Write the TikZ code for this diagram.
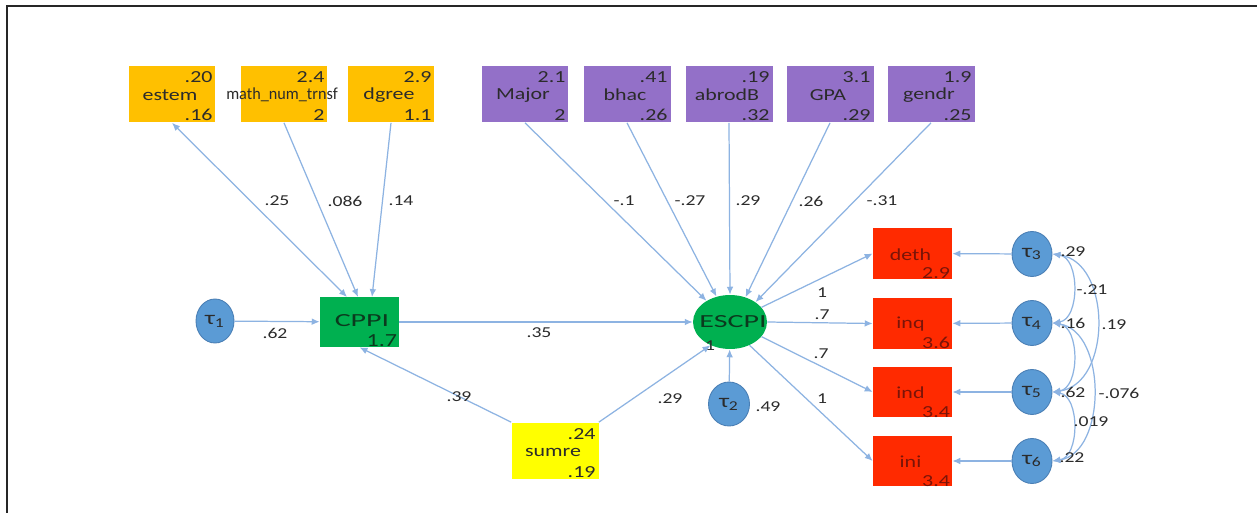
\documentclass[tikz,border=0pt]{standalone}
\usepackage{fontspec}
\setmainfont{Carlito}[FakeStretch=1.3]
\usepackage{graphicx}
\usetikzlibrary{arrows.meta,calc,shapes.geometric}
\definecolor{lnk}{HTML}{8DB3E2}
\definecolor{ellf}{HTML}{5B9BD5}
\definecolor{elld}{HTML}{4A7FB5}
\definecolor{orng}{HTML}{FFC000}
\definecolor{purp}{HTML}{9370C8}
\definecolor{grn}{HTML}{00B050}
\definecolor{redb}{HTML}{FF2A00}
\definecolor{yel}{HTML}{FFFF00}
\definecolor{txt}{HTML}{2B2B2B}
\definecolor{redtxt}{HTML}{7A1408}
\definecolor{grntxt}{HTML}{0B3A1E}
\tikzset{
  varbox/.style={minimum width=1.74cm, minimum height=1.14cm, inner sep=0pt, draw=none},
  lat/.style={ellipse, fill=ellf, draw=elld, line width=0.5pt, inner sep=0pt},
  bt/.style={text=txt, font=\fontsize{9.6}{11}\selectfont, inner sep=0pt},
  big/.style={text=grntxt, font=\fontsize{10.5}{12}\selectfont, inner sep=0pt},
  tau/.style={text=txt, font=\fontsize{11}{12}\selectfont, inner sep=0pt},
  lbl/.style={text=txt, font=\fontsize{8.6}{10}\selectfont, inner sep=0pt},
  path/.style={draw=lnk, line width=0.7pt, -{Latex[length=4.5pt,width=3.8pt]}},
  cov/.style={draw=lnk, line width=0.7pt, {Latex[length=4.5pt,width=3.8pt]}-{Latex[length=4.5pt,width=3.8pt]}},
}
\newcommand\mkbox[6]{%
  \node[varbox,fill=#3] (#1) at (#2) {};
  \node[bt,anchor=east] (#1-t) at ($(#1.north east)+(-3,12)$) {#4};
  \node[bt] (#1-l) at ($(#1.center)+(-2,1)$) {#5};
  \node[bt,anchor=east] (#1-b) at ($(#1.south east)+(-3,-8)$) {#6};
}
\begin{document}
\begin{tikzpicture}[x=0.02cm,y=-0.02cm]
\useasboundingbox (0,0) rectangle (1257,513);
\fill[white] (0,0) rectangle (1257,513);
\draw[line width=1.1pt, color=black!85] (1257,6) -- (7,6) -- (7,513);

% top exogenous boxes
\mkbox{estem}{172,94}{orng}{.20}{estem}{.16}
\mkbox{math}{284,94}{orng}{2.4}{\scalebox{0.74}[1]{math\_num\_trnsf}}{2}
\mkbox{dgree}{391,94}{orng}{2.9}{dgree}{1.1}
\mkbox{major}{525,94}{purp}{2.1}{Major}{2}
\mkbox{bhac}{627,94}{purp}{.41}{bhac}{.26}
\mkbox{abrodB}{729,94}{purp}{.19}{abrodB}{.32}
\mkbox{gpa}{830,94}{purp}{3.1}{GPA}{.29}
\mkbox{gendr}{931,94}{purp}{1.9}{gendr}{.25}

% CPPI
\node[fill=grn, minimum width=1.58cm, minimum height=1.0cm, inner sep=0pt] (cppi) at (359.5,322) {};
\node[big] (cppi-l) at (362,321) {\scalebox{1.25}[1]{CPPI}};
\node[bt,text=grntxt,font=\fontsize{10.5}{12}\selectfont,anchor=east] (cppi-v) at ($(cppi.south east)+(-2,-7)$) {1.7};

% ESCPI
\node[ellipse, fill=grn, minimum width=1.48cm, minimum height=1.08cm, inner sep=0pt] (escpi) at (730,322) {};
\node[big] (escpi-l) at (733,322) {\scalebox{1.25}[1]{ESCPI}};

% sumre
\mkbox{sumre}{555,451}{yel}{.24}{sumre}{.19}

% errors
\node[lat, minimum width=0.76cm, minimum height=0.88cm] (t1) at (215,321) {};
\node[tau] at (t1) {τ\textsubscript{1}};
\node[lat, minimum width=0.82cm, minimum height=0.88cm] (t2) at (729,404) {};
\node[tau] at (t2) {τ\textsubscript{2}};
\foreach \i/\y in {3/254,4/323,5/392,6/461}{
  \node[lat, minimum width=0.8cm, minimum height=0.9cm] (t\i) at (1032,\y) {};
  \node[tau] at (t\i) {τ\textsubscript{\i}};
}

% red indicator boxes
\foreach \n/\lab/\v/\y in {deth/deth/2.9/253.5, inq/inq/3.6/323.5, ind/ind/3.4/392, ini/ini/3.4/461}{
  \node[fill=redb, minimum width=1.58cm, minimum height=1.02cm, inner sep=0pt] (\n) at (912.5,\y) {};
  \node[bt,text=redtxt] (\n-l) at ($(\n.center)+(-2,1)$) {\lab};
  \node[bt,text=redtxt,anchor=east] (\n-v) at ($(\n.south east)+(-2,-6)$) {\v};
}

% paths into CPPI
\coordinate (c1) at (347,297);
\coordinate (c2) at (358,297);
\coordinate (c3) at (372,297);
\draw[cov] (estem.south) -- (c1);
\draw[path] (math.south) -- (c2);
\draw[path] (dgree.south) -- (c3);
\draw[path] (t1) -- (cppi);
\draw[path] (sumre.north west) -- (cppi.south);

% paths into ESCPI
\draw[path] (major.south) -- (escpi.138);
\draw[path] (bhac.south) -- (escpi.118);
\draw[path] (abrodB.south) -- (escpi.90);
\draw[path] (gpa.south) -- (escpi.58);
\draw[path] (gendr.south) -- (escpi.38);
\draw[path] (cppi) -- (escpi);
\draw[path] (sumre.north east) -- (escpi.-130);
\draw[path] (t2) -- (escpi);

% ESCPI to indicators
\draw[path] (escpi.25) -- (deth.west);
\draw[path] (escpi.east) -- (inq.west);
\draw[path] (escpi.-25) -- (ind.west);
\draw[path] (escpi.-50) -- (ini.west);

% errors to indicators
\foreach \n/\i in {deth/3,inq/4,ind/5,ini/6}{
  \draw[path] (t\i) -- (\n);
}

% covariances
\draw[cov] (t3.east) .. controls (1080,258) and (1080,319) .. (t4.east);
\draw[cov] (t3.east) .. controls (1112,262) and (1112,384) .. (t5.east);
\draw[cov] (t4.east) .. controls (1080,327) and (1080,388) .. (t5.east);
\draw[cov] (t4.east) .. controls (1107,331) and (1107,453) .. (t6.east);
\draw[cov] (t5.east) .. controls (1080,396) and (1080,457) .. (t6.east);

% labels
\node[lbl] (l1) at (277,201) {.25};
\node[lbl] (l2) at (345,201) {.086};
\node[lbl] (l3) at (401,201) {.14};
\node[lbl] (l4) at (624,201) {-.1};
\node[lbl] (l5) at (690,201) {-.27};
\node[lbl] (l6) at (748,201) {.29};
\node[lbl] (l7) at (811,201) {.26};
\node[lbl] (l8) at (882,201) {-.31};
\node[lbl] (l9) at (275,333) {.62};
\node[lbl] (l10) at (539,333) {.35};
\node[lbl] (l11) at (459,397) {.39};
\node[lbl] (l12) at (670,399) {.29};
\node[lbl] (l13) at (768,407) {.49};
\node[lbl] (l14) at (710,346) {1};
\node[lbl] (l15) at (822,293) {1};
\node[lbl] (l16) at (822,315) {.7};
\node[lbl] (l17) at (821,354) {.7};
\node[lbl] (l18) at (822,399) {1};
\node[lbl] (l19) at (1073,252) {.29};
\node[lbl] (l20) at (1092,290) {-.21};
\node[lbl] (l21) at (1073,323) {.16};
\node[lbl] (l22) at (1114,325) {.19};
\node[lbl] (l23) at (1073,392) {.62};
\node[lbl] (l24) at (1119,393) {-.076};
\node[lbl] (l25) at (1091,422) {.019};
\node[lbl] (l26) at (1072,458) {.22};
\end{tikzpicture}
\end{document}
